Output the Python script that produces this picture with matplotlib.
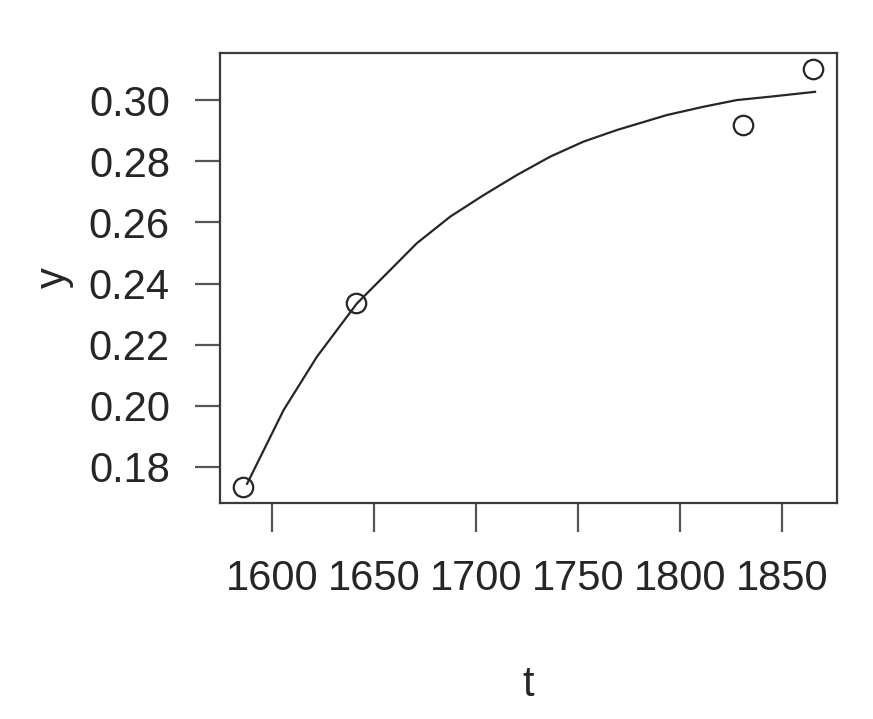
import matplotlib
matplotlib.use("Agg")
import matplotlib.pyplot as plt

# observed points
t_obs = [1585.4, 1641.0, 1830.7, 1865.3]
y_obs = [0.1736, 0.2335, 0.2918, 0.3101]

# fitted curve
t_fit = [1587.6, 1605.5, 1621.9, 1641.5, 1657.8, 1670.9, 1687.3, 1703.6,
         1720.0, 1736.3, 1752.6, 1769.0, 1793.5, 1811.4, 1827.8, 1844.1,
         1866.2]
y_fit = [0.1745, 0.1986, 0.2161, 0.2335, 0.2444, 0.2532, 0.2619, 0.2689,
         0.2755, 0.2815, 0.2864, 0.2902, 0.2951, 0.2978, 0.3000, 0.3011,
         0.3027]

x_ticks = [1600, 1650, 1700, 1750, 1800, 1850]
y_ticks = [0.18, 0.20, 0.22, 0.24, 0.26, 0.28, 0.30]
y_labels = ["0.18", "0.20", "0.22", "0.24", "0.26", "0.28", "0.30"]

plt.rcParams['font.family'] = ['Liberation Sans', 'DejaVu Sans']
ink = '#262626'

fig = plt.figure(figsize=(8.73, 7.19), dpi=100)
ax = fig.add_axes([0.252, 0.3004, 0.7068, 0.6259])

ax.plot(t_fit, y_fit, color=ink, lw=1.6, solid_joinstyle='round')
ax.plot(t_obs, y_obs, 'o', mfc='none', mec=ink, ms=14, mew=1.6)

ax.set_xlim(1574.3, 1877)
ax.set_ylim(0.1682, 0.3154)
ax.set_xticks(x_ticks)
ax.set_yticks(y_ticks)
ax.set_yticklabels(y_labels)

for s in ax.spines.values():
    s.set_color('#3a3a3a')
    s.set_linewidth(1.6)

ax.tick_params(axis='x', length=21, width=1.6, color='#555555', pad=19,
               labelsize=30, labelcolor=ink)
ax.tick_params(axis='y', length=18, width=1.6, color='#555555', pad=18,
               labelsize=30, labelcolor=ink)

ax.set_xlabel('t', fontsize=30, color=ink, labelpad=48)
ax.set_ylabel('y', fontsize=30, color=ink, labelpad=11)

fig.savefig('out.png', dpi=100)
